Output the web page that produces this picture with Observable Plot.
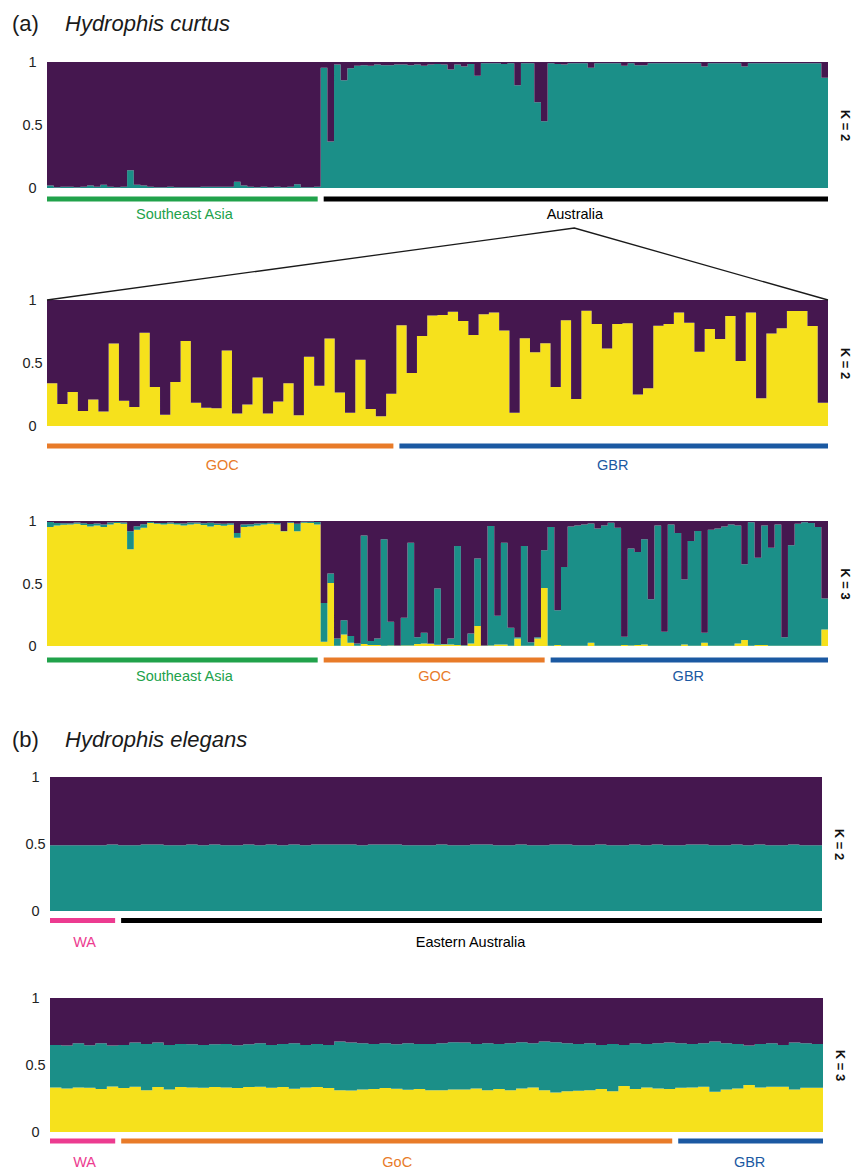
<!DOCTYPE html>
<html><head><meta charset="utf-8">
<script src="https://cdn.jsdelivr.net/npm/d3@7"></script>
<script src="https://cdn.jsdelivr.net/npm/@observablehq/plot@0.6"></script>
<style>
html,body{margin:0;padding:0;background:#fff;overflow:hidden;}
#fig{position:relative;width:856px;height:1171px;font-family:"Liberation Sans",Arial,Helvetica,sans-serif;}
.panel{position:absolute;left:0;}
#overlay{position:absolute;left:0;top:0;}
</style></head><body><div id="fig"></div>
<script>
// ---------- colours ----------
const clusterColors = {Y: "#f6e11c", T: "#1b8f88", P: "#45174f"};
const groupColor = {sea: "#21a24b", aus: "#000000", goc: "#e87b29", gbr: "#1b59a2", wa: "#ec3b90"};

// ---------- Hydrophis curtus, K = 2 (all individuals): teal proportion ----------
const curtusK2_SEA_teal = [0.02,0.005,0.01,0.01,0.005,0.01,0.02,0.01,0.025,0.01,0.005,0.01,0.14,0.025,0.02,0.01,0.005,0.005,0.01,0.005,0.005,0.005,0.005,0.01,0.01,0.01,0.01,0.01,0.05,0.02,0.01,0.005,0.01,0.005,0.01,0.005,0.01,0.03,0.005,0.005,0.01];
const curtusK2_AUS_teal = [0.955,0.37,0.98,0.855,0.95,0.97,0.975,0.97,0.98,0.975,0.975,0.98,0.98,0.975,0.98,0.97,0.98,0.985,0.98,0.94,0.98,0.965,0.985,0.89,0.99,0.99,0.99,0.985,0.99,0.815,0.99,0.99,0.68,0.53,0.99,0.985,0.98,0.99,0.99,0.99,0.955,0.99,0.99,0.99,0.99,0.97,0.99,0.975,0.975,0.99,0.99,0.99,0.99,0.99,0.99,0.99,0.99,0.965,0.99,0.99,0.99,0.99,0.99,0.965,0.99,0.99,0.99,0.99,0.99,0.99,0.99,0.99,0.99,0.99,0.99,0.875];

// ---------- Hydrophis curtus, Australia only, K = 2: yellow proportion ----------
const ausK2_GOC_yellow = [0.34,0.175,0.27,0.12,0.21,0.115,0.655,0.2,0.15,0.74,0.31,0.09,0.35,0.675,0.185,0.145,0.14,0.60,0.10,0.17,0.385,0.10,0.195,0.34,0.085,0.55,0.32,0.695,0.265,0.105,0.525,0.135,0.077,0.255];
const ausK2_GBR_yellow = [0.80,0.42,0.715,0.876,0.88,0.907,0.833,0.722,0.886,0.90,0.757,0.106,0.696,0.585,0.656,0.31,0.84,0.214,0.915,0.81,0.616,0.81,0.815,0.25,0.30,0.796,0.81,0.90,0.82,0.59,0.77,0.69,0.873,0.516,0.90,0.22,0.735,0.775,0.913,0.913,0.794,0.185];

// ---------- Hydrophis curtus, K = 3 (all individuals) ----------
const curtusK3_SEA_yellow = [0.952,0.965,0.971,0.973,0.979,0.968,0.957,0.965,0.952,0.973,0.984,0.979,0.774,0.931,0.947,0.984,0.979,0.973,0.979,0.973,0.965,0.973,0.979,0.968,0.957,0.968,0.963,0.971,0.867,0.952,0.957,0.965,0.973,0.979,0.973,0.918,0.984,0.918,0.987,0.984,0.973];
const curtusK3_SEA_teal = [0.04,0.019,0.012,0.01,0.01,0.015,0.02,0.015,0.02,0.015,0.008,0.01,0.144,0.027,0.027,0.008,0.005,0.012,0.01,0.012,0.015,0.015,0.01,0.015,0.029,0.012,0.015,0.012,0.037,0.02,0.018,0.015,0.012,0.008,0.012,0.003,0.006,0.06,0.008,0.01,0.02];
const curtusK3_AUS_yellow = [0.035,0.505,0.003,0.093,0.027,0.003,0.016,0.008,0.008,0.003,0.005,0.003,0.005,0.005,0.016,0.02,0.016,0.01,0.013,0.013,0.008,0.003,0.02,0.16,0.003,0.005,0.013,0.013,0.003,0.06,0.003,0.003,0.06,0.465,
  0.003,0.008,0.003,0.003,0.003,0.003,0.027,0.003,0.003,0.003,0.003,0.008,0.005,0.008,0.013,0.003,0.003,0.003,0.003,0.003,0.013,0.003,0.003,0.027,0.003,0.003,0.003,0.003,0.02,0.048,0.003,0.008,0.008,0.003,0.003,0.003,0.003,0.003,0.003,0.003,0.003,0.133];
const curtusK3_AUS_teal = [0.31,0.075,0.057,0.114,0.053,0.017,0.869,0.032,0.052,0.851,0.189,0.002,0.221,0.822,0.054,0.086,0.005,0.45,0.003,0.047,0.792,0.003,0.08,0.54,0.002,0.955,0.229,0.814,0.143,0.01,0.797,0.027,0.01,0.301,
  0.949,0.279,0.63,0.954,0.962,0.97,0.953,0.937,0.962,0.984,0.944,0.066,0.775,0.745,0.841,0.372,0.962,0.111,0.97,0.901,0.519,0.837,0.917,0.079,0.927,0.937,0.954,0.97,0.945,0.606,0.987,0.699,0.957,0.784,0.97,0.067,0.803,0.976,0.987,0.981,0.949,0.247];

// ---------- Hydrophis elegans, K = 2: teal proportion ----------
const elegansK2_teal = [0.49,0.49,0.49,0.49,0.49,0.497,0.49,0.49,0.497,0.497,0.49,0.49,0.497,0.49,0.497,0.49,0.49,0.497,0.49,0.497,0.49,0.497,0.49,0.497,0.497,0.497,0.497,0.49,0.497,0.497,0.497,0.49,0.49,0.49,0.497,0.49,0.49,0.497,0.497,0.49,0.49,0.497,0.49,0.49,0.497,0.497,0.49,0.49,0.497,0.49,0.49,0.497,0.49,0.497,0.49,0.49,0.497,0.497,0.49,0.49,0.497,0.49,0.497,0.49,0.49,0.497,0.49,0.49];

// ---------- Hydrophis elegans, K = 3 ----------
const elegansK3_yellow = [0.3325,0.325,0.3325,0.33,0.32,0.34,0.3275,0.3375,0.3125,0.335,0.3175,0.335,0.3325,0.33,0.335,0.3325,0.3275,0.335,0.3375,0.33,0.335,0.3225,0.3325,0.335,0.3275,0.3125,0.31,0.3175,0.32,0.3275,0.3225,0.315,0.32,
  0.3125,0.3125,0.3175,0.3175,0.325,0.3125,0.32,0.3125,0.325,0.3325,0.3125,0.295,0.305,0.3075,0.3125,0.32,0.305,0.3425,0.32,0.3325,0.325,0.32,0.33,0.3325,0.3375,0.30,0.3175,0.325,0.35,0.3325,0.3375,0.3375,0.3175,0.33,0.33];
const elegansK3_teal = [0.3175,0.32,0.33,0.3175,0.3425,0.305,0.3225,0.33,0.345,0.3325,0.3325,0.3225,0.3225,0.32,0.32,0.325,0.32,0.32,0.325,0.32,0.3225,0.34,0.3175,0.3225,0.3225,0.3625,0.3575,0.345,0.3375,0.335,0.3325,0.3475,0.3375,
  0.345,0.35,0.3525,0.35,0.3325,0.35,0.3375,0.35,0.345,0.33,0.3625,0.375,0.3575,0.35,0.35,0.33,0.3525,0.3075,0.3425,0.325,0.3375,0.3475,0.3325,0.325,0.325,0.375,0.345,0.3325,0.295,0.325,0.325,0.3125,0.35,0.3325,0.3275];

// ---------- group labels ----------
const curtusGroupsK2 = [{name: "Southeast Asia", n: 41, key: "sea"}, {name: "Australia", n: 76, key: "aus"}];
const ausGroups = [{name: "GOC", n: 34, key: "goc"}, {name: "GBR", n: 42, key: "gbr"}];
const curtusGroupsK3 = [{name: "Southeast Asia", n: 41, key: "sea"}, {name: "GOC", n: 34, key: "goc"}, {name: "GBR", n: 42, key: "gbr"}];
const elegansGroupsK2 = [{name: "WA", n: 6, key: "wa"}, {name: "Eastern Australia", n: 62, key: "aus"}];
const elegansGroupsK3 = [{name: "WA", n: 6, key: "wa"}, {name: "GoC", n: 49, key: "goc"}, {name: "GBR", n: 13, key: "gbr"}];

// ---------- helpers ----------
// Each cluster becomes one step-shaped band (no seams between neighbouring individuals).
function stackRows(layers) {
  const rows = [];
  const n = layers[0].values.length;
  for (let i = 0; i <= n; i++) {
    const j = Math.min(i, n - 1);
    let acc = 0;
    for (const L of layers) {
      const v = L.values[j];
      rows.push({x: i, y1: acc, y2: acc + v, k: L.k});
      acc += v;
    }
  }
  return rows;
}
function complement(arr) { return arr.map(v => 1 - v); }
function complement2(a, b) { return a.map((v, i) => 1 - v - b[i]); }
function groupSpans(groups) {
  let s = 0;
  return groups.map(g => { const o = {...g, start: s, end: s + g.n, color: groupColor[g.key]}; s += g.n; return o; });
}

const fig = document.getElementById("fig");
const FONT = "Liberation Sans, Arial, Helvetica, sans-serif";

function panel({layers, groups, kLabel, left, right, top, bottom, svgTop, svgBottom, lineDy, labelDy}) {
  const rows = stackRows(layers);
  const n = layers[0].values.length;
  const spans = groupSpans(groups);
  const marks = [
    Plot.areaY(rows, {x: "x", y1: "y1", y2: "y2", z: "k", fill: "k", curve: "step-after"}),
    Plot.text([0, 0.5, 1], {y: d => d, text: d => String(d), frameAnchor: "left", textAnchor: "middle", dx: -15, fontSize: 14.5, fill: "#222"}),
    Plot.text([kLabel], {frameAnchor: "right", textAnchor: "middle", rotate: 90, dx: 17, fontSize: 13, fontWeight: "bold", fill: "#111"}),
    ...spans.map(g => Plot.ruleY([0], {x1: g.start, x2: g.end, stroke: g.color, strokeWidth: 5, dy: lineDy, insetLeft: g.start === 0 ? 0 : 3, insetRight: g.end === n ? 0 : 3})),
    ...spans.map(g => Plot.text([g], {x: d => (d.start + d.end) / 2, y: 0, text: "name", dy: labelDy, fill: g.color, fontSize: 14.5}))
  ];
  const p = Plot.plot({
    width: 856,
    height: svgBottom - svgTop,
    marginLeft: left,
    marginRight: 856 - right,
    marginTop: top - svgTop,
    marginBottom: svgBottom - bottom,
    x: {domain: [0, n], axis: null},
    y: {domain: [0, 1], axis: null},
    color: {domain: ["Y", "T", "P"], range: [clusterColors.Y, clusterColors.T, clusterColors.P]},
    style: {fontFamily: FONT, background: "transparent", overflow: "visible"},
    marks
  });
  const div = document.createElement("div");
  div.className = "panel";
  div.style.top = svgTop + "px";
  div.appendChild(p);
  fig.appendChild(div);
  return {plot: p, svgTop, spans};
}

// ---------- panels ----------
const k2All = [...curtusK2_SEA_teal, ...curtusK2_AUS_teal];
const p1 = panel({
  layers: [{k: "T", values: k2All}, {k: "P", values: complement(k2All)}],
  groups: curtusGroupsK2, kLabel: "K = 2",
  left: 47, right: 828, top: 62, bottom: 188, svgTop: 40, svgBottom: 226, lineDy: 10.5, labelDy: 26
});

const ausY = [...ausK2_GOC_yellow, ...ausK2_GBR_yellow];
const p2 = panel({
  layers: [{k: "Y", values: ausY}, {k: "P", values: complement(ausY)}],
  groups: ausGroups, kLabel: "K = 2",
  left: 47, right: 828, top: 300, bottom: 426, svgTop: 290, svgBottom: 480, lineDy: 19.5, labelDy: 39
});

const k3Y = [...curtusK3_SEA_yellow, ...curtusK3_AUS_yellow];
const k3T = [...curtusK3_SEA_teal, ...curtusK3_AUS_teal];
const p3 = panel({
  layers: [{k: "Y", values: k3Y}, {k: "T", values: k3T}, {k: "P", values: complement2(k3Y, k3T)}],
  groups: curtusGroupsK3, kLabel: "K = 3",
  left: 47, right: 828, top: 521, bottom: 646, svgTop: 505, svgBottom: 695, lineDy: 13.5, labelDy: 30
});

const p4 = panel({
  layers: [{k: "T", values: elegansK2_teal}, {k: "P", values: complement(elegansK2_teal)}],
  groups: elegansGroupsK2, kLabel: "K = 2",
  left: 50, right: 822, top: 777, bottom: 911, svgTop: 760, svgBottom: 955, lineDy: 9, labelDy: 31
});

const p5 = panel({
  layers: [{k: "Y", values: elegansK3_yellow}, {k: "T", values: elegansK3_teal}, {k: "P", values: complement2(elegansK3_yellow, elegansK3_teal)}],
  groups: elegansGroupsK3, kLabel: "K = 3",
  left: 50, right: 823, top: 998, bottom: 1132, svgTop: 985, svgBottom: 1171, lineDy: 8.5, labelDy: 30
});

// ---------- overlay: titles and zoom lines ----------
const sx1 = p1.plot.scale("x"), sy1 = p1.plot.scale("y");
const sx2 = p2.plot.scale("x"), sy2 = p2.plot.scale("y");
const ausSpan = p1.spans[1];
const apexX = sx1.apply((ausSpan.start + ausSpan.end) / 2);
const apexY = p1.svgTop + sy1.apply(0) + 40;
const leftX = sx2.apply(0), rightX = sx2.apply(p2.spans[p2.spans.length - 1].end);
const topY2 = p2.svgTop + sy2.apply(1);

const svg = d3.select("#fig").append("svg").attr("id", "overlay").attr("width", 856).attr("height", 1171)
  .style("font-family", FONT);
svg.append("polyline")
  .attr("points", [[leftX, topY2], [apexX, apexY], [rightX, topY2]].map(p => p.join(",")).join(" "))
  .attr("fill", "none").attr("stroke", "#1a1a1a").attr("stroke-width", 1.3);

const titles = [
  {tag: "(a)", species: "Hydrophis curtus", y: 31},
  {tag: "(b)", species: "Hydrophis elegans", y: 747}
];
for (const t of titles) {
  svg.append("text").attr("x", 12).attr("y", t.y).attr("font-size", 22).attr("fill", "#1a1a1a").text(t.tag);
  svg.append("text").attr("x", 65).attr("y", t.y).attr("font-size", 22).attr("font-style", "italic").attr("fill", "#1a1a1a").text(t.species);
}
</script>
</body></html>
